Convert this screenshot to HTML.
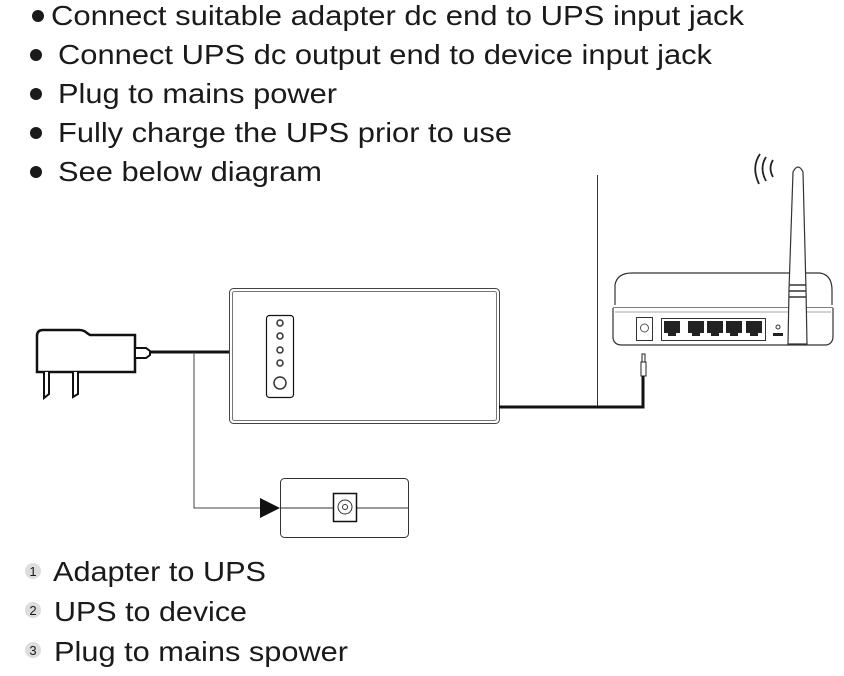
<!DOCTYPE html>
<html><head><meta charset="utf-8"><style>
html,body{margin:0;padding:0;background:#fff;}
svg{display:block;}
text{font-family:"Liberation Sans",sans-serif;fill:#1a1a1a;}
</style></head><body>
<svg width="844" height="676" viewBox="0 0 844 676" xmlns="http://www.w3.org/2000/svg">
<g font-size="28">
<circle cx="38" cy="16" r="6" fill="#1a1a1a"/>
<text x="51" y="25" textLength="693" lengthAdjust="spacingAndGlyphs">Connect suitable adapter dc end to UPS input jack</text>
<circle cx="36" cy="55" r="6" fill="#1a1a1a"/>
<text x="58" y="64" textLength="654" lengthAdjust="spacingAndGlyphs">Connect UPS dc output end to device input jack</text>
<circle cx="36" cy="94" r="6" fill="#1a1a1a"/>
<text x="58" y="103" textLength="279" lengthAdjust="spacingAndGlyphs">Plug to mains power</text>
<circle cx="36" cy="133" r="6" fill="#1a1a1a"/>
<text x="58" y="142" textLength="454" lengthAdjust="spacingAndGlyphs">Fully charge the UPS prior to use</text>
<circle cx="36" cy="172" r="6" fill="#1a1a1a"/>
<text x="58" y="181" textLength="264" lengthAdjust="spacingAndGlyphs">See below diagram</text>
</g>
<path d="M37 336 Q37 330 43 330 L79 330 Q84 330 87 333 L90 335 L135 335 L135 372 L37 372 Z" fill="#fff" stroke="#111" stroke-width="2.5"/>
<path d="M135 348 L146 348 L150 351 L150 355 L146 358 L135 358 Z" fill="#fff" stroke="#111" stroke-width="2"/>
<path d="M44 372 L44 398 L49 394 L49 372 M73 372 L73 397 L78 394 L78 372" fill="#fff" stroke="#111" stroke-width="2"/>
<line x1="150" y1="352" x2="229" y2="352" stroke="#111" stroke-width="3"/>
<polyline points="194,352 194,508 262,508" fill="none" stroke="#444" stroke-width="1"/>
<polygon points="260,498 280,508 260,518" fill="#111"/>
<rect x="280.5" y="478.5" width="128" height="59" rx="4" fill="#fff" stroke="#333" stroke-width="1"/>
<line x1="280" y1="508" x2="409" y2="508" stroke="#333" stroke-width="1"/>
<rect x="333.5" y="493.5" width="23" height="28" fill="#fff" stroke="#111" stroke-width="1.5"/>
<circle cx="345" cy="507" r="7" fill="none" stroke="#333" stroke-width="1"/>
<circle cx="345" cy="507" r="2.5" fill="none" stroke="#333" stroke-width="1"/>
<rect x="229.5" y="288.5" width="270" height="135" rx="4" fill="#fff" stroke="#444" stroke-width="1"/>
<rect x="232.5" y="291.5" width="264" height="129" rx="2" fill="none" stroke="#777" stroke-width="1"/>
<rect x="266.5" y="315.5" width="27" height="82" rx="3" fill="#fff" stroke="#111" stroke-width="1.2"/>
<g fill="#fff" stroke="#333" stroke-width="1.5">
<circle cx="280" cy="323" r="3"/><circle cx="280" cy="336" r="3"/><circle cx="280" cy="350" r="3"/><circle cx="280" cy="363" r="3"/>
<circle cx="280" cy="383" r="6"/>
</g>
<polyline points="499,407 643,407 643,375" fill="none" stroke="#111" stroke-width="3"/>
<line x1="597.5" y1="175" x2="597.5" y2="406" stroke="#333" stroke-width="1"/>
<rect x="641" y="362" width="5" height="14" fill="#fff" stroke="#222" stroke-width="1"/>
<rect x="642" y="354" width="3" height="8" fill="#fff" stroke="#222" stroke-width="1"/>
<path d="M615 305 L615 285 Q617 273 632 273 L820 273 Q832 275 832 290 L832 305" fill="#fff" stroke="#333" stroke-width="1.2"/>
<line x1="613" y1="308" x2="833" y2="308" stroke="#333" stroke-width="1.2"/>
<path d="M613 308 L613 338 Q614 345 622 345 L826 345 Q833 344 833 336 L833 308" fill="#fff" stroke="#333" stroke-width="1.2"/>
<line x1="615" y1="312" x2="831" y2="312" stroke="#888" stroke-width="0.8"/>
<rect x="636.5" y="317.5" width="16" height="23" fill="#fff" stroke="#333"/>
<circle cx="644.5" cy="328" r="4" fill="none" stroke="#555"/>
<rect x="661.5" y="318.5" width="104" height="22" fill="#fff" stroke="#333"/>
<g fill="#222">
<rect x="664" y="321" width="16" height="12"/><rect x="668" y="333" width="8" height="3"/>
<rect x="688" y="321" width="16" height="12"/><rect x="692" y="333" width="8" height="3"/>
<rect x="707" y="321" width="16" height="12"/><rect x="711" y="333" width="8" height="3"/>
<rect x="726" y="321" width="16" height="12"/><rect x="730" y="333" width="8" height="3"/>
<rect x="746" y="321" width="16" height="12"/><rect x="750" y="333" width="8" height="3"/>
<rect x="773" y="333" width="10" height="3"/>
</g>
<circle cx="778" cy="327" r="2" fill="none" stroke="#333"/>
<path d="M788 344 L789 290 L793 172 Q798 162 803 172 L806 290 L807 344 Z" fill="#fff" stroke="#333" stroke-width="1.2"/>
<line x1="789" y1="285" x2="806" y2="285" stroke="#333" stroke-width="1.5"/>
<line x1="789" y1="291" x2="806" y2="291" stroke="#333" stroke-width="1.5"/>
<line x1="789" y1="297" x2="806" y2="297" stroke="#333" stroke-width="1.5"/>
<g fill="none" stroke="#222" stroke-width="1.8">
<path d="M760 154 Q751 167 759 184"/>
<path d="M766 157 Q759 168 766 181"/>
<path d="M773 160 Q768 168 773 177"/>
</g>
<g>
<circle cx="33" cy="571" r="8" fill="#ddd"/><text x="33" y="576" font-size="13" text-anchor="middle">1</text>
<circle cx="33" cy="610" r="8" fill="#ddd"/><text x="33" y="615" font-size="13" text-anchor="middle">2</text>
<circle cx="33" cy="650" r="8" fill="#ddd"/><text x="33" y="655" font-size="13" text-anchor="middle">3</text>
</g>
<g font-size="28">
<text x="53" y="581" textLength="213" lengthAdjust="spacingAndGlyphs">Adapter to UPS</text>
<text x="54" y="621" textLength="193" lengthAdjust="spacingAndGlyphs">UPS to device</text>
<text x="54" y="661" textLength="294" lengthAdjust="spacingAndGlyphs">Plug to mains spower</text>
</g>
</svg>
</body></html>
